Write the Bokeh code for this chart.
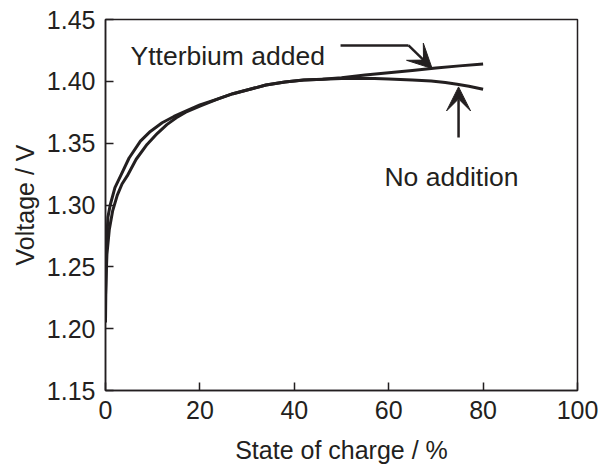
from bokeh.plotting import figure
from bokeh.models import Range1d, FixedTicker, NumeralTickFormatter, Label, Arrow, VeeHead
from bokeh.embed import file_html
from bokeh.resources import INLINE

# Ytterbium added
soc_yb = [0, 0.1, 0.2, 0.5, 1, 2, 3.2, 5, 7.4, 9.5, 12, 14.5, 17, 20, 24, 27, 31, 34, 38, 42, 46,
          50, 55, 60, 65, 70, 75, 80]
v_yb = [1.205, 1.24, 1.265, 1.29, 1.300, 1.314, 1.3235, 1.338, 1.3516, 1.3595, 1.3665, 1.3716, 1.376,
        1.381, 1.386, 1.390, 1.394, 1.397, 1.3995, 1.401, 1.4016, 1.403, 1.4052, 1.4069, 1.4088,
        1.4108, 1.4125, 1.414]
# No addition
soc_no = [0, 0.3, 0.8, 1.5, 2.5, 3.5, 4.6, 6.5, 8.8, 11, 13, 15, 17, 20, 24, 27, 31, 34, 38, 42, 46,
          50, 53, 57, 60, 65, 69, 72, 74.5, 77, 80]
v_no = [1.227, 1.26, 1.28, 1.295, 1.308, 1.317, 1.3235, 1.337, 1.349, 1.358, 1.365, 1.3705, 1.375,
        1.380, 1.386, 1.390, 1.394, 1.397, 1.3995, 1.401, 1.4016, 1.4022, 1.4024, 1.4022, 1.4018,
        1.401, 1.4002, 1.399, 1.3976, 1.396, 1.3936]

x_ticks = [0, 20, 40, 60, 80, 100]
y_ticks = [1.15, 1.20, 1.25, 1.30, 1.35, 1.40, 1.45]

INK = "#231f20"
FONT = "Liberation Sans"
FS = "25px"
FS_ANN = "26.5px"

p = figure(width=603, height=466, output_backend="svg", toolbar_location=None,
           x_range=Range1d(0, 100), y_range=Range1d(1.15, 1.45),
           min_border_left=105, min_border_right=26, min_border_top=19, min_border_bottom=73)
p.grid.visible = False
p.outline_line_color = INK
p.outline_line_width = 1.5
p.background_fill_color = "white"
p.border_fill_color = "white"

for ax in (p.xaxis[0], p.yaxis[0]):
    ax.axis_line_color = INK
    ax.axis_line_width = 1.5
    ax.major_tick_line_color = INK
    ax.major_tick_line_width = 1.5
    ax.major_tick_in = 8
    ax.major_tick_out = 0
    ax.minor_tick_line_color = None
    ax.major_label_text_font = FONT
    ax.major_label_text_font_size = FS
    ax.major_label_text_color = INK
    ax.axis_label_text_font = FONT
    ax.axis_label_text_font_size = FS
    ax.axis_label_text_font_style = "normal"
    ax.axis_label_text_color = INK

p.xaxis.ticker = FixedTicker(ticks=x_ticks)
p.yaxis.ticker = FixedTicker(ticks=y_ticks)
p.yaxis.formatter = NumeralTickFormatter(format="0.00")
p.xaxis.axis_label = "State of charge / %"
p.yaxis.axis_label = "Voltage / V"
p.xaxis.major_label_standoff = 10
p.xaxis.axis_label_standoff = 14
p.yaxis.major_label_standoff = 10
p.yaxis.axis_label_standoff = 5

p.line(soc_yb, v_yb, line_color=INK, line_width=3, line_join="round")
p.line(soc_no, v_no, line_color=INK, line_width=3, line_join="round")

# Ytterbium arrow: horizontal segment then diagonal arrow to curve
p.line([49.8, 64.2], [1.429, 1.429], line_color=INK, line_width=2.5)
p.add_layout(Arrow(end=VeeHead(size=24, fill_color=INK, line_color=INK, line_width=1),
                   x_start=64.2, y_start=1.429, x_end=69.2, y_end=1.4104,
                   line_color=INK, line_width=2.5))
# No addition arrow
p.add_layout(Arrow(end=VeeHead(size=24, fill_color=INK, line_color=INK, line_width=1),
                   x_start=74.8, y_start=1.3545, x_end=74.8, y_end=1.3955,
                   line_color=INK, line_width=2.5))

p.add_layout(Label(x=5.3, y=1.4203, text="Ytterbium added", text_font=FONT,
                   text_font_size=FS_ANN, text_color=INK, text_baseline="alphabetic"))
p.add_layout(Label(x=73.3, y=1.3224, text="No addition", text_font=FONT,
                   text_font_size=FS_ANN, text_color=INK, text_baseline="alphabetic", text_align="center"))

open("out.html", "w").write(file_html(p, INLINE))
